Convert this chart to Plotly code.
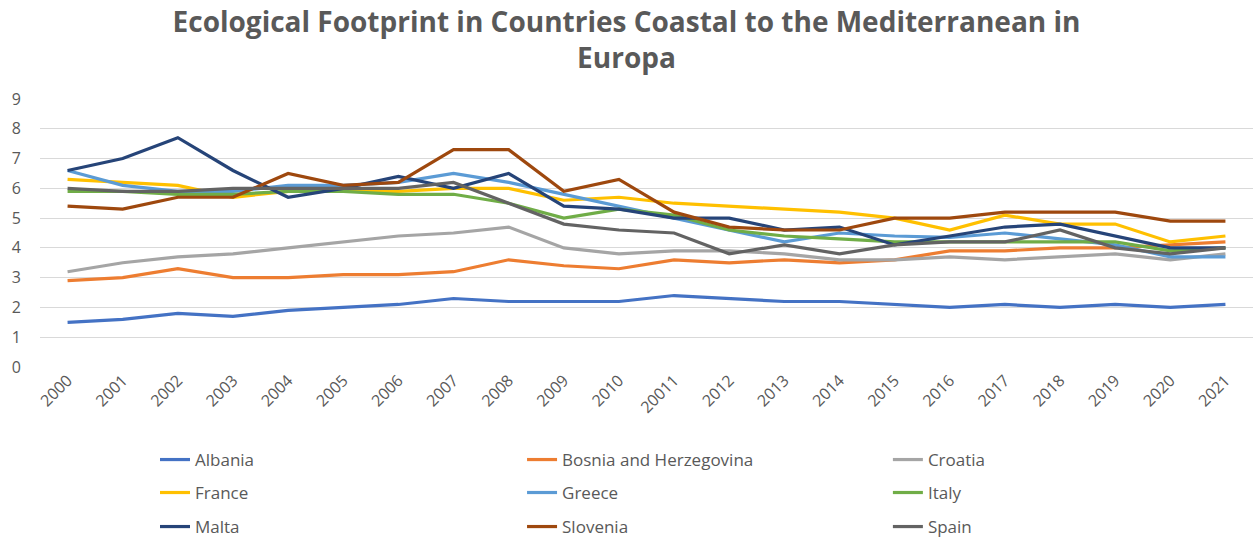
import plotly.graph_objects as go

years = ["2000", "2001", "2002", "2003", "2004", "2005", "2006", "2007", "2008", "2009",
         "2010", "20011", "2012", "2013", "2014", "2015", "2016", "2017", "2018", "2019",
         "2020", "2021"]

albania = [1.5, 1.6, 1.8, 1.7, 1.9, 2.0, 2.1, 2.3, 2.2, 2.2, 2.2, 2.4, 2.3, 2.2, 2.2, 2.1, 2.0, 2.1, 2.0, 2.1, 2.0, 2.1]
bosnia = [2.9, 3.0, 3.3, 3.0, 3.0, 3.1, 3.1, 3.2, 3.6, 3.4, 3.3, 3.6, 3.5, 3.6, 3.5, 3.6, 3.9, 3.9, 4.0, 4.0, 4.1, 4.2]
croatia = [3.2, 3.5, 3.7, 3.8, 4.0, 4.2, 4.4, 4.5, 4.7, 4.0, 3.8, 3.9, 3.9, 3.8, 3.6, 3.6, 3.7, 3.6, 3.7, 3.8, 3.6, 3.8]
france = [6.3, 6.2, 6.1, 5.7, 5.9, 5.9, 5.9, 6.0, 6.0, 5.6, 5.7, 5.5, 5.4, 5.3, 5.2, 5.0, 4.6, 5.1, 4.8, 4.8, 4.2, 4.4]
greece = [6.6, 6.1, 5.9, 5.9, 6.1, 6.1, 6.2, 6.5, 6.2, 5.8, 5.4, 5.0, 4.6, 4.2, 4.5, 4.4, 4.35, 4.5, 4.3, 4.1, 3.7, 3.7]
italy = [5.9, 5.9, 5.8, 5.8, 5.9, 5.9, 5.8, 5.8, 5.5, 5.0, 5.3, 5.1, 4.6, 4.4, 4.3, 4.2, 4.2, 4.2, 4.2, 4.2, 3.9, 4.0]
malta = [6.6, 7.0, 7.7, 6.6, 5.7, 6.0, 6.4, 6.0, 6.5, 5.4, 5.3, 5.0, 5.0, 4.6, 4.7, 4.1, 4.4, 4.7, 4.8, 4.4, 4.0, 4.0]
slovenia = [5.4, 5.3, 5.7, 5.7, 6.5, 6.1, 6.2, 7.3, 7.3, 5.9, 6.3, 5.2, 4.7, 4.6, 4.6, 5.0, 5.0, 5.2, 5.2, 5.2, 4.9, 4.9]
spain = [6.0, 5.9, 5.9, 6.0, 6.0, 6.0, 6.0, 6.2, 5.5, 4.8, 4.6, 4.5, 3.8, 4.1, 3.8, 4.1, 4.2, 4.2, 4.6, 4.0, 3.8, 4.0]

series_names = ["Albania", "Bosnia and Herzegovina", "Croatia", "France", "Greece",
                "Italy", "Malta", "Slovenia", "Spain"]
series_values = [albania, bosnia, croatia, france, greece, italy, malta, slovenia, spain]
colors = ["#4472C4", "#ED7D31", "#A5A5A5", "#FFC000", "#5B9BD5",
          "#70AD47", "#264478", "#9E480E", "#636363"]

text_color = "#595959"
font_family = "'Open Sans', sans-serif"

# legend grid layout: 3 columns x 3 rows (paper coordinates)
legend_cols_x = [0.0948, 0.3974, 0.699]
legend_rows_y = [-0.347, -0.470, -0.597]

fig = go.Figure()
legend_layouts = {}
for i, (name, vals, col) in enumerate(zip(series_names, series_values, colors)):
    lg = "legend" if i == 0 else f"legend{i + 1}"
    fig.add_trace(go.Scatter(
        x=years, y=vals, name=name, mode="lines",
        line=dict(color=col, width=3.2),
        legend=lg,
    ))
    legend_layouts[lg] = dict(
        orientation="h",
        xanchor="left",
        x=legend_cols_x[i % 3],
        yanchor="middle",
        y=legend_rows_y[i // 3],
        font=dict(family=font_family, size=17, color=text_color),
        bgcolor="rgba(0,0,0,0)",
        itemwidth=30,
    )

fig.update_layout(
    width=1253,
    height=544,
    margin=dict(l=40, r=0, t=99, b=177, autoexpand=False),
    paper_bgcolor="white",
    plot_bgcolor="white",
    title=dict(
        text="Ecological Footprint in Countries Coastal to the Mediterranean in<br>Europa",
        x=0.5, xanchor="center",
        y=0.941, yanchor="top", yref="container",
        font=dict(family=font_family, size=28, color=text_color, weight="bold"),
    ),
    xaxis=dict(
        type="category",
        range=[-0.5, 21.5],
        showgrid=False,
        showline=False,
        zeroline=False,
        tickangle=-45,
        ticks="",
        tickfont=dict(family=font_family, size=16, color=text_color),
    ),
    yaxis=dict(
        range=[0, 9],
        dtick=1,
        showgrid=True,
        gridcolor="#D9D9D9",
        gridwidth=1.3,
        zeroline=False,
        showline=False,
        ticks="",
        ticklabelstandoff=18,
        tickfont=dict(family=font_family, size=16, color=text_color),
    ),
    showlegend=True,
    **legend_layouts,
)

fig.write_html("out.html")
